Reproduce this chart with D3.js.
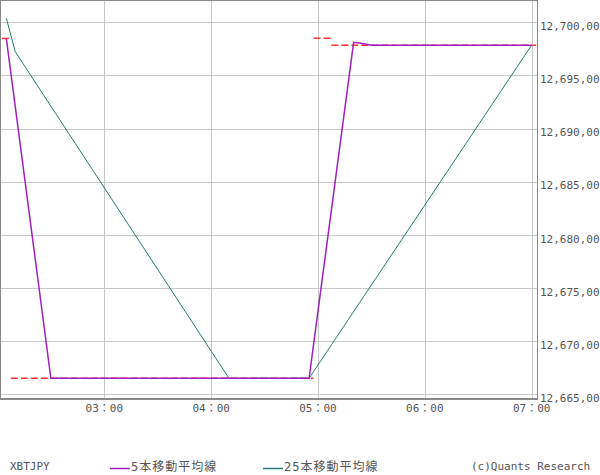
<!DOCTYPE html>
<html>
<head>
<meta charset="utf-8">
<script src="https://cdn.jsdelivr.net/npm/d3@7"></script>
<style>
  body { margin: 0; background: #fff; }
  svg { display: block; }
  .mono { font-family: "DejaVu Sans Mono", "Noto Sans CJK JP", monospace; font-size: 11px; fill: #555; }
</style>
</head>
<body>
<svg id="chart"></svg>
<script>
// 5-minute bars, values (line vertices)
const ma5Times = ["02:05", "02:30", "04:55", "05:20", "05:25", "05:30", "07:00"];
const ma5Values = [12698.46, 12666.51, 12666.51, 12698.12, 12698.0, 12697.84, 12697.84];

const ma25Times = ["02:05", "02:10", "04:10", "04:55", "07:00"];
const ma25Values = [12700.38, 12697.23, 12666.51, 12666.51, 12697.86];

// price runs: first bar, last bar, price
const priceFrom = ["02:05", "02:10", "05:00", "05:10"];
const priceTo = ["02:05", "04:55", "05:05", "07:00"];
const priceValues = [12698.48, 12666.51, 12698.5, 12697.84];

const yTicks = [12665, 12670, 12675, 12680, 12685, 12690, 12695, 12700];
const xTicks = ["03:00", "04:00", "05:00", "06:00", "07:00"];

const width = 600;
const height = 475;
const plotW = 537;
const plotH = 399;

const parse = d3.timeParse("%Y-%m-%d %H:%M");
const t = (s) => parse("2018-01-01 " + s);
const halfBar = 2.5 * 60 * 1000;

const x = d3.scaleTime()
  .domain([t("03:00"), t("07:00")])
  .range([104.3, 531.7]);

const y = d3.scaleLinear()
  .domain([12665, 12700])
  .range([394.3, 22.3]);

const svg = d3.select("#chart")
  .attr("width", width)
  .attr("height", height);

// grid
svg.append("g")
  .selectAll("line")
  .data(yTicks)
  .enter()
  .append("line")
  .attr("x1", 0).attr("x2", plotW)
  .attr("y1", d => Math.round(y(d)) + 0.5)
  .attr("y2", d => Math.round(y(d)) + 0.5)
  .attr("stroke", "#c8c8c8");

svg.append("g")
  .selectAll("line")
  .data(xTicks)
  .enter()
  .append("line")
  .attr("y1", 0).attr("y2", plotH)
  .attr("x1", d => Math.round(x(t(d))) + 0.5)
  .attr("x2", d => Math.round(x(t(d))) + 0.5)
  .attr("stroke", "#c8c8c8");

const plot = svg.append("g");
svg.append("clipPath").attr("id", "clip")
  .append("rect").attr("x", 1).attr("y", 1).attr("width", plotW - 1).attr("height", plotH - 2);
plot.attr("clip-path", "url(#clip)");

// price (red dashed)
plot.selectAll("line.price")
  .data(priceValues)
  .enter()
  .append("line")
  .attr("class", "price")
  .attr("x1", (d, i) => x(new Date(+t(priceFrom[i]) - halfBar)))
  .attr("x2", (d, i) => x(new Date(+t(priceTo[i]) + halfBar)))
  .attr("y1", d => y(d))
  .attr("y2", d => y(d))
  .attr("stroke", "#ff3333")
  .attr("stroke-width", 1.5)
  .attr("stroke-dasharray", "7,3");

const line = d3.line()
  .x(d => x(t(d[0])))
  .y(d => y(d[1]));

plot.append("path")
  .datum(d3.zip(ma25Times, ma25Values))
  .attr("d", line)
  .attr("fill", "none")
  .attr("stroke", "#2a7a75")
  .attr("stroke-width", 1);

plot.append("path")
  .datum(d3.zip(ma5Times, ma5Values))
  .attr("d", line)
  .attr("fill", "none")
  .attr("stroke", "#a020c0")
  .attr("stroke-width", 1.5);

// frame
svg.append("line").attr("x1", 0).attr("x2", plotW + 1).attr("y1", 0.5).attr("y2", 0.5).attr("stroke", "#888");
svg.append("line").attr("x1", 0.5).attr("x2", 0.5).attr("y1", 0).attr("y2", plotH + 1).attr("stroke", "#888");
svg.append("line").attr("x1", plotW + 0.5).attr("x2", plotW + 0.5).attr("y1", 0).attr("y2", plotH + 1).attr("stroke", "#888");
svg.append("line").attr("x1", 0).attr("x2", plotW + 1).attr("y1", plotH).attr("y2", plotH).attr("stroke", "#888").attr("stroke-width", 2);

// axis labels
const fmtY = (v) => d3.format(",")(v) + ",00";

svg.append("g")
  .selectAll("text")
  .data(yTicks)
  .enter()
  .append("text")
  .attr("class", "mono")
  .attr("x", 540)
  .attr("y", d => y(d) + 7.7)
  .text(fmtY);

svg.append("g")
  .selectAll("text")
  .data(xTicks)
  .enter()
  .append("text")
  .attr("class", "mono")
  .attr("x", d => x(t(d)))
  .attr("y", 412)
  .attr("text-anchor", "middle")
  .text(d => d.replace(":", "："));

// legend
svg.append("text").attr("class", "mono").attr("x", 10).attr("y", 470).text("XBTJPY");

svg.append("line").attr("x1", 110).attr("x2", 130).attr("y1", 468.5).attr("y2", 468.5)
  .attr("stroke", "#a020c0").attr("stroke-width", 1.5);
svg.append("text").attr("class", "mono").attr("x", 131).attr("y", 471)
  .style("font-size", "12px").style("letter-spacing", "1px").text("5本移動平均線");

svg.append("line").attr("x1", 263).attr("x2", 283).attr("y1", 468.5).attr("y2", 468.5)
  .attr("stroke", "#2a7a75").attr("stroke-width", 1.5);
svg.append("text").attr("class", "mono").attr("x", 284).attr("y", 471)
  .style("font-size", "12px").style("letter-spacing", "1px").text("25本移動平均線");

svg.append("text").attr("class", "mono").attr("x", 471).attr("y", 470).text("(c)Quants Research");
</script>
</body>
</html>
